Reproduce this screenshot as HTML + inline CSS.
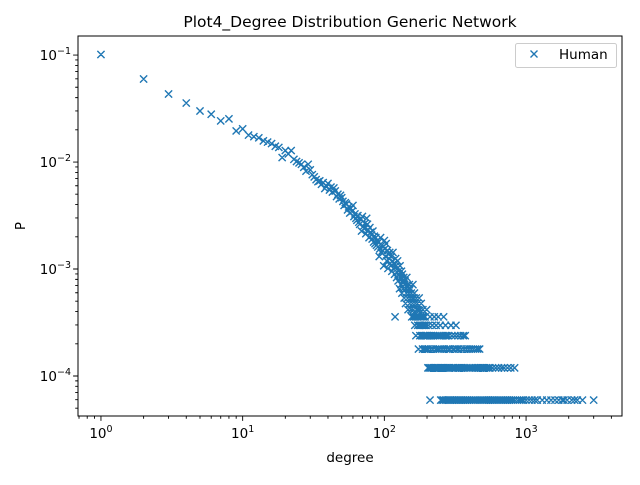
<!DOCTYPE html>
<html><head><meta charset="utf-8"><style>
body{margin:0;background:#fff;}
svg text{font-family:"DejaVu Sans","Liberation Sans",sans-serif;fill:#000;}
</style></head><body>
<svg id="chart" width="640" height="480" viewBox="0 0 640 480" xmlns="http://www.w3.org/2000/svg">
<rect width="640" height="480" fill="#fff"/>
<text x="350" y="27" font-size="15.5" text-anchor="middle">Plot4_Degree Distribution Generic Network</text>
<g id="marks"></g>
<g id="axes"></g>
<text x="350" y="462" font-size="13.5" text-anchor="middle">degree</text>
<text x="0" y="0" font-size="13.5" text-anchor="middle" transform="translate(25,226) rotate(-90)">P</text>
<g>
<rect x="515.5" y="43.5" width="101" height="24" rx="2" fill="#fff" stroke="#ccc" stroke-width="1"/>
<path d="M530.5,50.5 L537.5,57.5 M530.5,57.5 L537.5,50.5" stroke="#1f77b4" stroke-width="1.4"/>
<text x="559" y="59" font-size="13.5">Human</text>
</g>
</svg>
<script>
const N = 16800;
const headDeg = [1,2,3,4,5,6,7,8,9,10,11,12,13,14,15,16,17,18,19,20,21,22,23,24,25,26,27,28,29,30,31,32,33,34,35,36,37,38,39,40,41,42,43,44,45,46,47,48,49,50,51,52,53,54,55,56,57,58,59,60,61,62,63,64,65,66,67,68,69,70,71,72,73,74,75,76,77,78,79,80,81,82,83,84,85,86,87,88,89,90,91,92,93,94,95,96,97,98,99,100,101,102,103,104,105,106,107,108,109,110,111,112,113,114,115,116,117,118,119,120,121,122,123,124,125,126,127,128,129,130,131,132,133,134,135,136,137,138,139,140,141,142,143,144,145,146,147,148,149,150,151,152,153,154,155,156,157,158,159,160,161,162,163,164,165,166,167,168,169,170,171,172,173,174,175,176,177,178,179,180,181,182,183,184,185,186,187,188,189,190,191,192,193,194,195,196,197,198,199,200];
const headCount = [1700,1003,726,598,504,470,407,425,328,343,300,290,283,265,258,250,236,230,185,215,200,215,178,170,165,160,150,138,160,142,128,122,115,110,112,104,108,95,100,106,92,98,88,96,90,80,84,76,82,78,72,66,70,68,60,64,56,62,58,66,52,55,50,48,53,46,44,49,38,52,42,40,45,36,50,44,39,33,41,37,35,32,38,30,34,29,33,28,31,27,30,22,26,33,24,28,25,27,18,31,26,22,29,20,25,17,23,21,24,19,18,22,16,20,24,17,19,15,6,21,18,14,17,20,13,16,15,11,18,14,12,16,10,15,13,11,14,9,12,13,8,11,10,14,12,9,7,11,10,12,8,9,11,7,10,6,9,8,12,7,6,9,10,5,8,6,4,9,7,6,8,5,7,3,6,9,5,4,7,6,5,8,4,6,5,3,7,4,6,5,4,3,5,6,4,3,5,4,7,3];
const degC6 = [210,225,240,262];
const degC5 = [205,218,232,248,270,295,320];
const degC4 = [202,209,215,222,228,236,244,252,260,268,276,284,300,315,330,345,360,372];
const degC3 = [204,212,220,230,238,246,255,265,275,285,290,305,312,325,335,350,365,380,395,410,425,440,455,470];
const degC2 = [203,207,211,216,221,226,231,237,242,249,254,259,266,272,278,283,289,296,302,308,318,328,338,348,358,368,378,388,398,408,418,430,442,454,466,480,495,510,525,540,556,580,610,640,672,700,740,780,830];
const degC1 = [210,250,256,262,270,278,286,294,303,312,322,332,342,352,362,374,386,398,410,424,438,452,466,480,496,512,528,544,560,578,596,615,634,654,675,696,718,740,764,788,812,840,870,900,930,960,1000,1050,1100,1150,1200,1300,1400,1500,1600,1700,1800,1850,1950,2100,2200,2300,2500,3000];
const xTickExp = [0,1,2,3];
const yTickExp = [-1,-2,-3,-4];

const L=78,R=622,T=36,B=416;
const xMin=-0.162,xMax=3.677,yMin=-4.374,yMax=-0.822;
function xs(v){return L+(Math.log10(v)-xMin)/(xMax-xMin)*(R-L);}
function ys(v){return B-(Math.log10(v)-yMin)/(yMax-yMin)*(B-T);}
const NS="http://www.w3.org/2000/svg";
const marks=document.getElementById('marks');
let d="";
const h=3.6;
function add(k,c){const x=xs(k),y=ys(c/N);d+=`M${(x-h).toFixed(2)},${(y-h).toFixed(2)}L${(x+h).toFixed(2)},${(y+h).toFixed(2)}M${(x-h).toFixed(2)},${(y+h).toFixed(2)}L${(x+h).toFixed(2)},${(y-h).toFixed(2)}`;}
headDeg.forEach((k,i)=>add(k,headCount[i]));
[[degC1,1],[degC2,2],[degC3,3],[degC4,4],[degC5,5],[degC6,6]].forEach(([a,c])=>a.forEach(k=>add(k,c)));
const p=document.createElementNS(NS,'path');


p.setAttribute('d',d);p.setAttribute('stroke','#1f77b4');p.setAttribute('stroke-width','1.4');p.setAttribute('fill','none');
marks.appendChild(p);

const axes=document.getElementById('axes');
let ad="";
for(let e=-1;e<=3;e++){for(let m=1;m<10;m++){const v=m*Math.pow(10,e);const x=xs(v);if(x<L||x>R)continue;const len=m===1?4.9:2.8;ad+=`M${x.toFixed(2)},${B}L${x.toFixed(2)},${B+len}`;}}
for(let e=-5;e<=-1;e++){for(let m=1;m<10;m++){const v=m*Math.pow(10,e);const y=ys(v);if(y<T||y>B)continue;const len=m===1?4.9:2.8;ad+=`M${L},${y.toFixed(2)}L${L-len},${y.toFixed(2)}`;}}
const tk=document.createElementNS(NS,'path');


tk.setAttribute('d',ad);tk.setAttribute('stroke','#000');tk.setAttribute('stroke-width','0.9');
axes.appendChild(tk);
const fr=document.createElementNS(NS,'rect');


fr.setAttribute('x',L);fr.setAttribute('y',T);fr.setAttribute('width',R-L);fr.setAttribute('height',B-T);fr.setAttribute('fill','none');fr.setAttribute('stroke','#000');fr.setAttribute('stroke-width','1');
axes.appendChild(fr);
xTickExp.forEach(e=>{const t=document.createElementNS(NS,'text');


t.setAttribute('x',xs(Math.pow(10,e)));t.setAttribute('y',B+22);t.setAttribute('font-size','13.5');t.setAttribute('text-anchor','middle');
t.innerHTML=`10<tspan font-size="9.5" dy="-6">${e}</tspan>`;axes.appendChild(t);});
yTickExp.forEach(e=>{const t=document.createElementNS(NS,'text');


t.setAttribute('x',L-7);t.setAttribute('y',ys(Math.pow(10,e))+5);t.setAttribute('font-size','13.5');t.setAttribute('text-anchor','end');
t.innerHTML=`10<tspan font-size="9.5" dy="-6">\u2212${-e}</tspan>`;axes.appendChild(t);});
</script>
</body></html>
